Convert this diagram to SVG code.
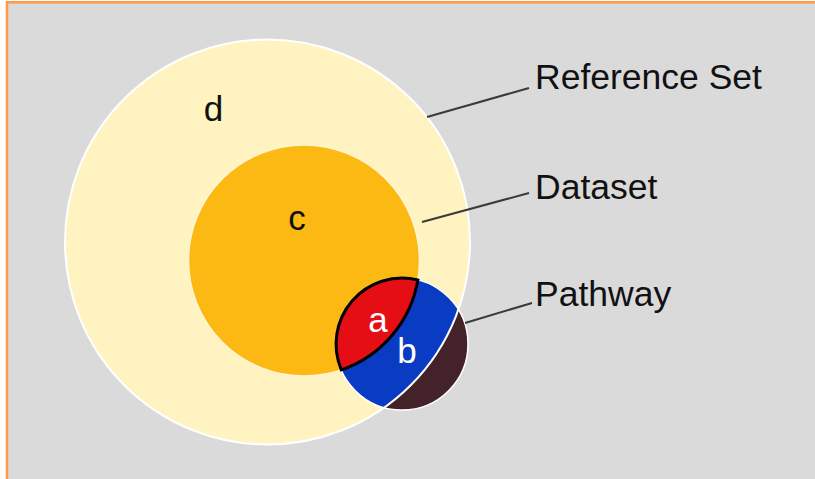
<svg xmlns="http://www.w3.org/2000/svg" width="815" height="479" viewBox="0 0 815 479">
  <style>
    .label { font-family: "Liberation Sans", Arial, sans-serif; font-size: 35.5px; fill: #111; }
    .region { font-family: "Liberation Sans", Arial, sans-serif; font-size: 35px; text-anchor: middle; }
    .leader { stroke: #3a3a3a; stroke-width: 2; fill: none; }
  </style>
  <defs>
    <clipPath id="refClip">
      <circle cx="267.5" cy="242" r="202.5"/>
    </clipPath>
  </defs>

  <!-- panel -->
  <rect x="0" y="0" width="815" height="479" fill="#ffffff"/>
  <rect x="7" y="2.3" width="830" height="500" fill="#dadada" stroke="#ff9a4a" stroke-width="2.6"/>

  <!-- reference set -->
  <g id="reference-set">
    <circle cx="267.5" cy="242" r="202.5" fill="#fff3c1"/>
    <text class="region" x="213.5" y="121" fill="#111">d</text>
  </g>

  <!-- dataset -->
  <g id="dataset">
    <circle cx="304" cy="260.5" r="115.5" fill="#fdb913" stroke="#fff6d6" stroke-width="1.5"/>
    <text class="region" x="297" y="230" fill="#111">c</text>
  </g>

  <!-- pathway: outside part, part inside reference set, overlap with dataset -->
  <g id="pathway">
    <circle cx="402" cy="344" r="66" fill="#43222a"/>
    <circle cx="402" cy="344" r="66" fill="#0a3bc3" clip-path="url(#refClip)"/>
    <circle cx="402" cy="344" r="66" fill="none" stroke="#ffffff" stroke-width="1.5"/>
    <circle cx="267.5" cy="242" r="202.5" fill="none" stroke="#ffffff" stroke-width="2"/>
    <path d="M417.9,280 A115.5,115.5 0 0 1 341.3,369.8 A66,66 0 0 1 417.9,280 Z" fill="#e50e15" stroke="#000" stroke-width="3"/>
    <text class="region" x="378" y="332" fill="#ffffff">a</text>
    <text class="region" x="407" y="363" fill="#ffffff">b</text>
  </g>

  <!-- leader lines -->
  <g id="connectors">
    <line class="leader" x1="427" y1="117" x2="529" y2="88"/>
    <line class="leader" x1="422" y1="222" x2="529" y2="193"/>
    <line class="leader" x1="465" y1="323" x2="532" y2="303"/>
  </g>

  <g id="labels">
    <text class="label" x="535" y="89">Reference Set</text>
    <text class="label" x="535" y="199">Dataset</text>
    <text class="label" x="535" y="306">Pathway</text>
  </g>
</svg>
